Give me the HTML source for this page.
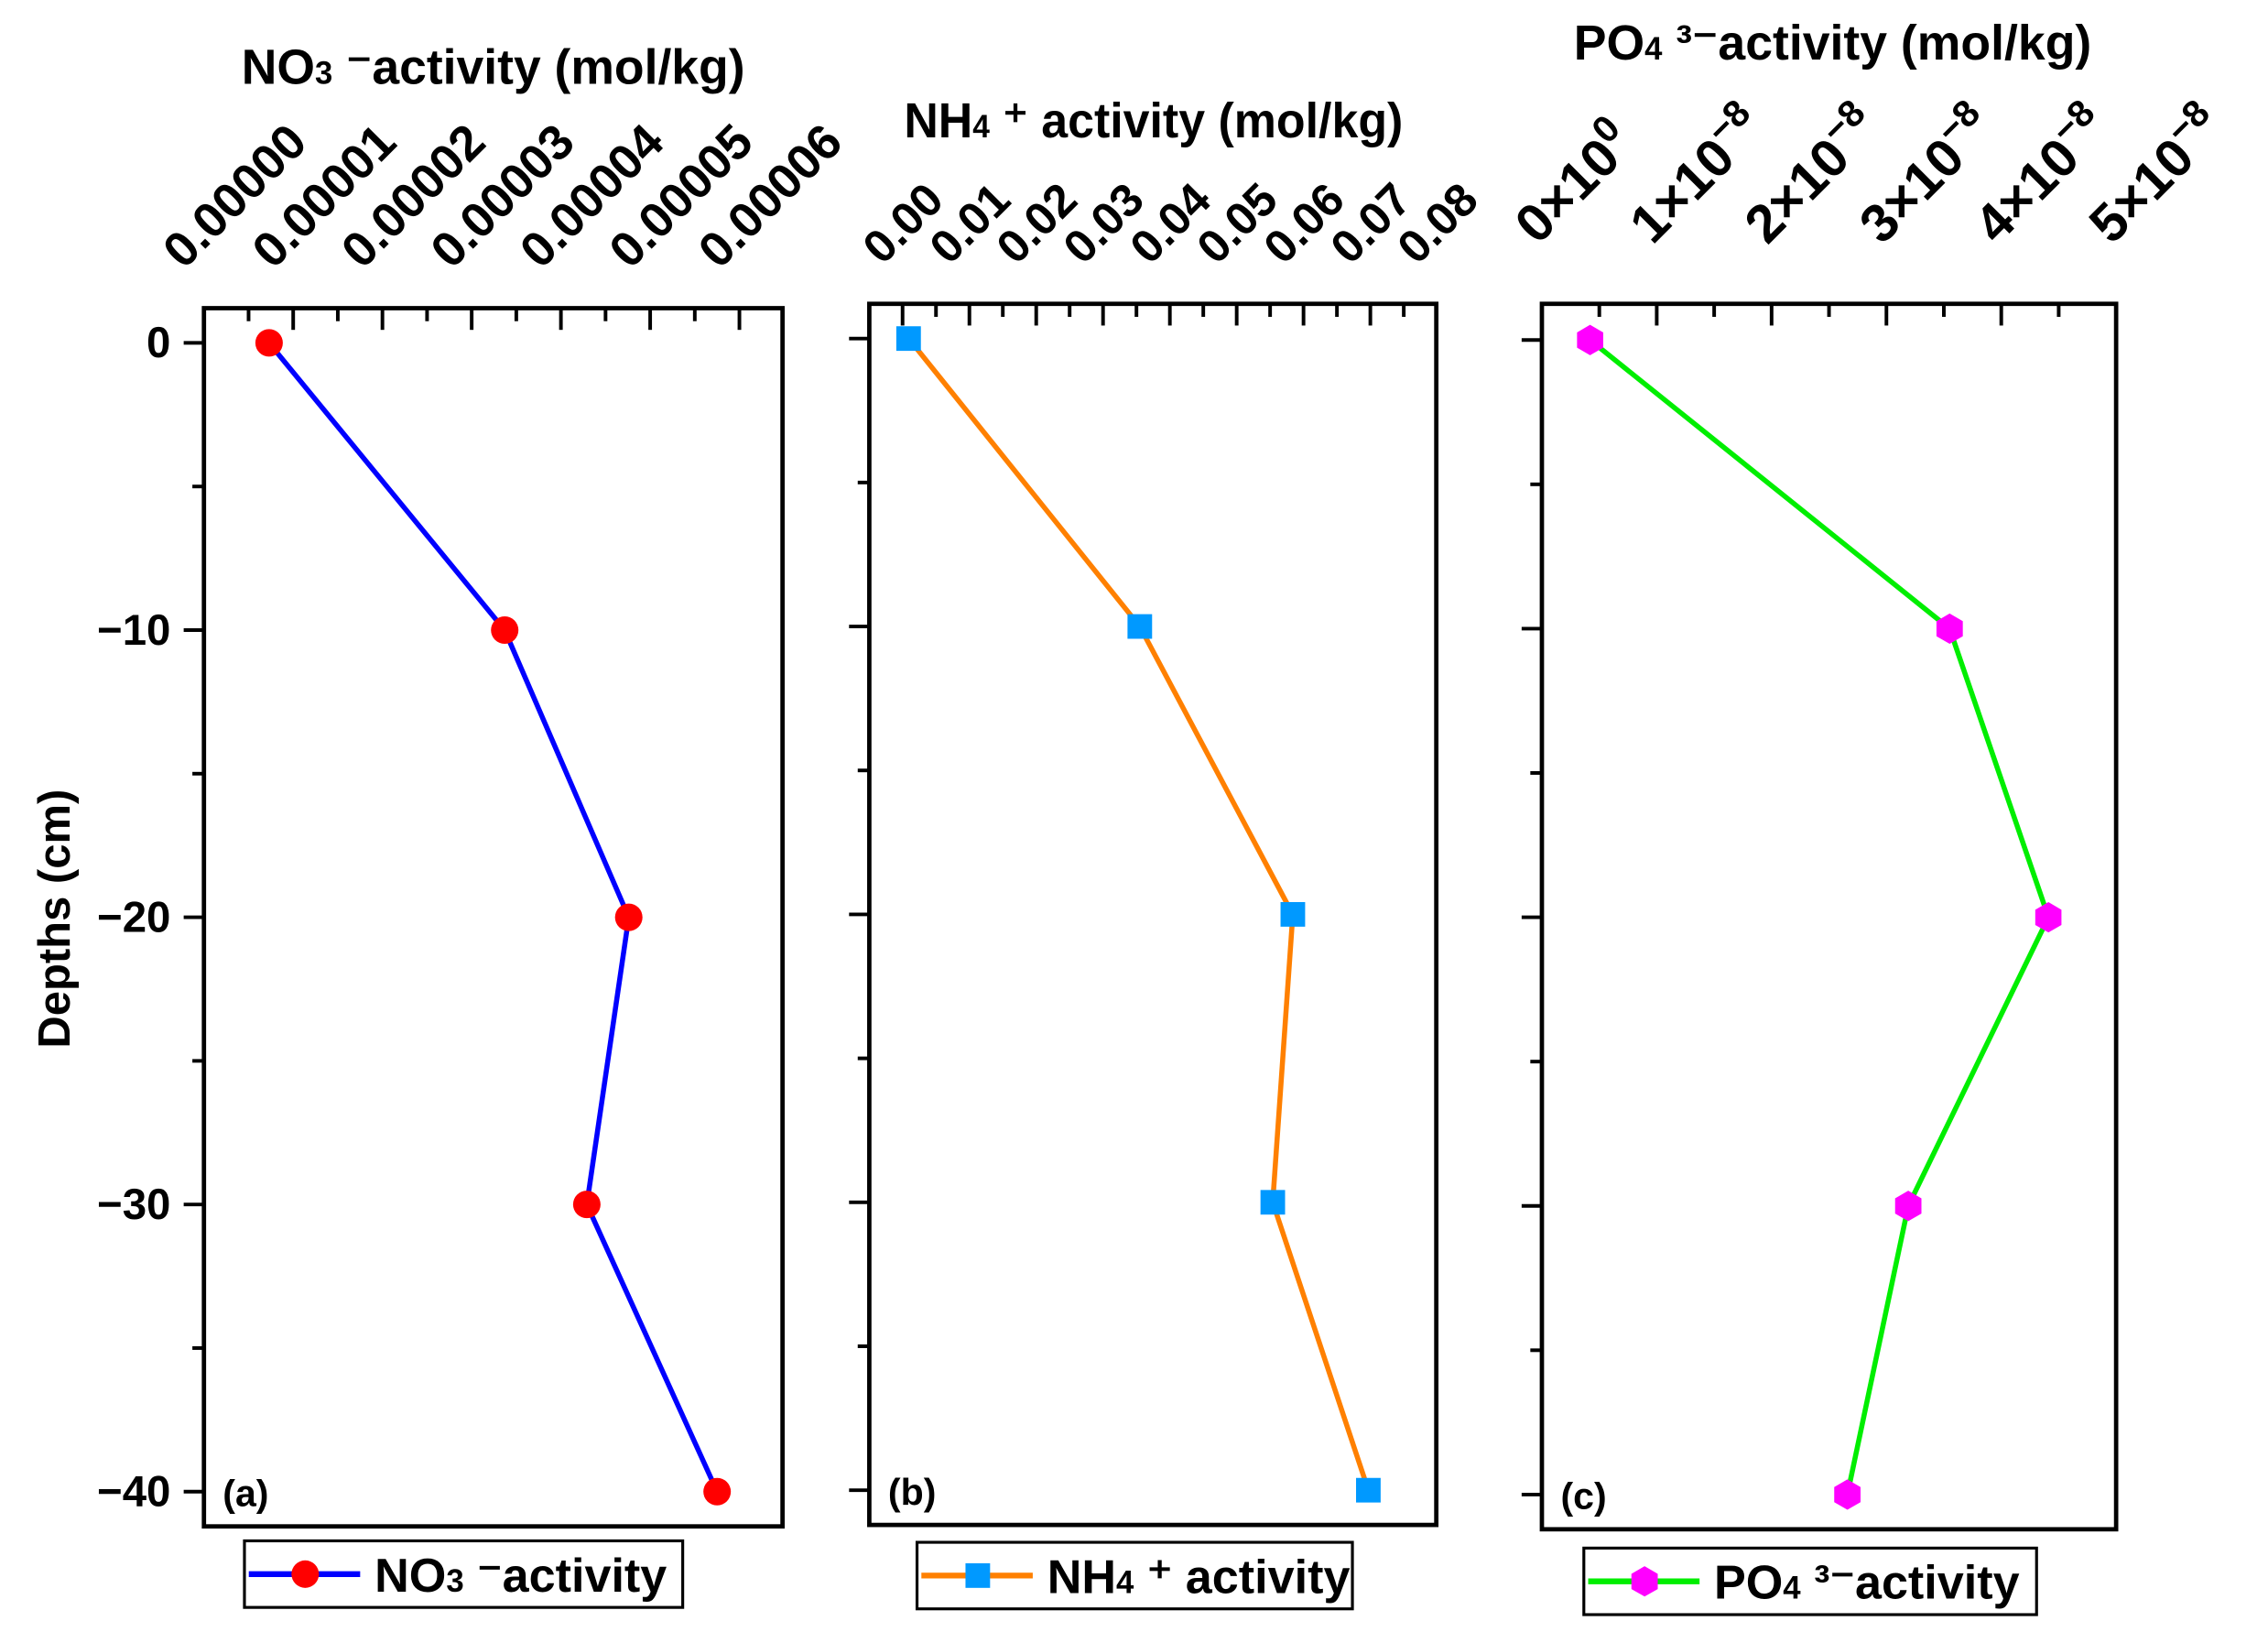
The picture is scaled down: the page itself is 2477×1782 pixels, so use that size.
<!DOCTYPE html>
<html><head><meta charset="utf-8"><style>
html,body{margin:0;padding:0;background:#fff;}
svg{display:block;font-family:"Liberation Sans",Arial,sans-serif;font-weight:bold;}
</style></head><body>
<svg id="chart" width="2477" height="1782" viewBox="0 0 1568 1128" preserveAspectRatio="none" xmlns="http://www.w3.org/2000/svg"></svg>
<script>
const depths = [0, -10, -20, -30, -40];
const no3Values = [0.73e-5, 3.37e-5, 4.76e-5, 4.29e-5, 5.75e-5];
const nh4Values = [0.0009, 0.0355, 0.0584, 0.0554, 0.0697];
const po4Values = [0.42e-8, 3.55e-8, 4.41e-8, 3.19e-8, 2.66e-8];
const yTickValues = [0, -10, -20, -30, -40];
const yTickLabels = ["0", "\u221210", "\u221220", "\u221230", "\u221240"];
const no3TickLabels = ["0.00000","0.00001","0.00002","0.00003","0.00004","0.00005","0.00006"];
const nh4TickLabels = ["0.00","0.01","0.02","0.03","0.04","0.05","0.06","0.07","0.08"];
const po4TickLabels = ["0\u00d710^0","1\u00d710^\u22128","2\u00d710^\u22128","3\u00d710^\u22128","4\u00d710^\u22128","5\u00d710^\u22128"];

const NS = "http://www.w3.org/2000/svg";
const svg = document.getElementById('chart');
function mk(tag, attrs, parent, text){
  const e = document.createElementNS(NS, tag);
  for (const k in attrs) e.setAttribute(k, attrs[k]);
  if (text !== undefined) e.textContent = text;
  (parent || svg).appendChild(e);
  return e;
}

const panels = [
  {key:'no3', label:'(a)', vals:no3Values, ticks:no3TickLabels, tickStep:1e-5, x0:141, x1:541, top:213, bot:1055, y0:237, y40:1031,
   xAt0:141, pxPerStep:61.7, line:'#0000ff', mcol:'#ff0000', marker:'circle', tlx:-14, tly:187, tfs:34,
   legend:{x:169,y:1065,w:303,h:46}, leg:['NO','3',' \u207bactivity']},
  {key:'nh4', label:'(b)', vals:nh4Values, ticks:nh4TickLabels, tickStep:0.01, x0:601, x1:993, top:210, bot:1054, y0:234, y40:1030,
   xAt0:624, pxPerStep:46.2, line:'#ff8000', mcol:'#0099ff', marker:'square', tlx:-14, tly:184, tfs:32,
   legend:{x:634,y:1066,w:301,h:46}, leg:['NH','4',' \u207a activity']},
  {key:'po4', label:'(c)', vals:po4Values, ticks:po4TickLabels, tickStep:1e-8, x0:1066, x1:1463, top:210, bot:1057, y0:235, y40:1033,
   xAt0:1066, pxPerStep:79.4, line:'#00ee00', mcol:'#ff00ff', marker:'hex', tlx:-3, tly:170, tfs:37,
   legend:{x:1095,y:1070,w:313,h:46}, leg:['PO','4',' \u00b3\u207bactivity']}
];

function drawMarker(type, x, y, col, parent){
  let m;
  if (type==='circle') m = mk('circle',{cx:x,cy:y,r:9.5,fill:col},parent);
  else if (type==='square') m = mk('rect',{x:x-8.5,y:y-8.5,width:17,height:17,fill:col},parent);
  else {
    const r=10.5, pts=[];
    for(let i=0;i<6;i++){const a=Math.PI/6+i*Math.PI/3;pts.push((x+r*Math.cos(a)).toFixed(1)+','+(y+r*Math.sin(a)).toFixed(1));}
    m = mk('polygon',{points:pts.join(' '),fill:col},parent);
  }
  return m;
}

panels.forEach(p=>{
  const g = mk('g',{});
  
  
  const xs = v => p.xAt0 + v/p.tickStep*p.pxPerStep;
  const ys = d => p.y0 + (d/-40)*(p.y40-p.y0);
  const fr = mk('rect',{x:p.x0,y:p.top,width:p.x1-p.x0,height:p.bot-p.top,fill:'none',stroke:'#000','stroke-width':3},g);
  
  
  p.ticks.forEach((t,i)=>{
    const x = p.xAt0 + i*p.pxPerStep;
    if (x>p.x0+2 && x<p.x1-2) mk('line',{x1:x,y1:p.top,x2:x,y2:p.top+15,stroke:'#000','stroke-width':2.5},g);
    const xm = x + p.pxPerStep/2;
    if (xm>p.x0+2 && xm<p.x1-2) mk('line',{x1:xm,y1:p.top,x2:xm,y2:p.top+9,stroke:'#000','stroke-width':2.5},g);
    const lx = x + p.tlx, ly = p.tly;
    const lab = mk('text',{x:lx,y:ly,'font-size':p.tfs,'text-anchor':'start',transform:`rotate(-45 ${lx} ${ly})`},g);
    const parts = t.split('^');
    mk('tspan',{},lab,parts[0]);
    if (parts[1]) mk('tspan',{dy:-15,'font-size':p.tfs*0.7},lab,parts[1]);
    
    
  });
  yTickValues.forEach((v,i)=>{
    const y = ys(v);
    mk('line',{x1:p.x0-14,y1:y,x2:p.x0,y2:y,stroke:'#000','stroke-width':2.5},g);
    if (i<yTickValues.length-1){const ym=ys(v-5); mk('line',{x1:p.x0-8,y1:ym,x2:p.x0,y2:ym,stroke:'#000','stroke-width':2.5},g);}
    if (p.key==='no3'){
      const t = mk('text',{x:118,y:y+10,'font-size':30,'text-anchor':'end'},g,yTickLabels[i]);
      
      
    }
  });
  const pts = p.vals.map((v,i)=>xs(v).toFixed(1)+','+ys(depths[i]).toFixed(1)).join(' ');
  const pl = mk('polyline',{points:pts,fill:'none',stroke:p.line,'stroke-width':3.5},g);
  
  
  p.vals.forEach((v,i)=>{
    const m = drawMarker(p.marker, xs(v), ys(depths[i]), p.mcol, g);
    
    
  });
  const pla = mk('text',{x:p.x0+13,y:p.y40+10,'font-size':26},g,p.label);
  
  
  const L = p.legend;
  const lg = mk('g',{},g);
  
  
  mk('rect',{x:L.x,y:L.y,width:L.w,height:L.h,fill:'#fff',stroke:'#000','stroke-width':2},lg);
  mk('line',{x1:L.x+3,y1:L.y+L.h/2,x2:L.x+80,y2:L.y+L.h/2,stroke:p.line,'stroke-width':4},lg);
  drawMarker(p.marker, L.x+42, L.y+L.h/2, p.mcol, lg);
  const lt = mk('text',{x:L.x+90,y:L.y+35,'font-size':33},lg);
  mk('tspan',{},lt,p.leg[0]);
  mk('tspan',{'font-size':22},lt,p.leg[1]);
  mk('tspan',{},lt,p.leg[2]);
});

function title(x,y,w,a,b,c,name){
  const t = mk('text',{x:x,y:y,'font-size':34,'textLength':w,'lengthAdjust':'spacingAndGlyphs'});
  
  
  mk('tspan',{},t,a); mk('tspan',{'font-size':22},t,b); mk('tspan',{},t,c);
}
title(167,58,348,'NO','3',' \u207bactivity (mol/kg)','x-axis-title-no3');
title(625,95,345,'NH','4',' \u207a activity (mol/kg)','x-axis-title-nh4');
title(1088,41,358,'PO','4',' \u00b3\u207bactivity (mol/kg)','x-axis-title-po4');
const yt = mk('text',{x:48,y:635,'font-size':31,'text-anchor':'middle',transform:'rotate(-90 48 635)'},svg,'Depths (cm)');


</script>
</body></html>
